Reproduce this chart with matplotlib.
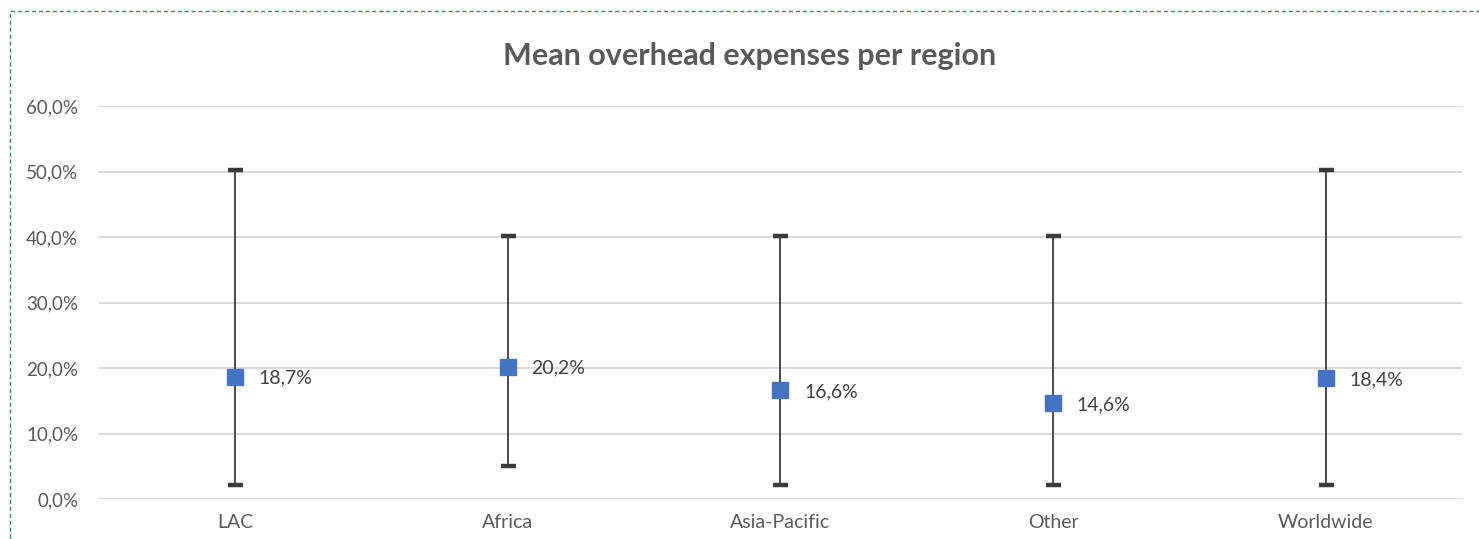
import matplotlib
matplotlib.use("Agg")
import matplotlib.pyplot as plt
from matplotlib.patches import Rectangle

plt.rcParams["font.family"] = ["Lato", "DejaVu Sans"]

# data
regions = ["LAC", "Africa", "Asia-Pacific", "Other", "Worldwide"]
means = [0.187, 0.202, 0.166, 0.146, 0.184]
lows = [0.021, 0.050, 0.021, 0.021, 0.021]
highs = [0.503, 0.401, 0.401, 0.401, 0.503]
yticks = [0.0, 0.1, 0.2, 0.3, 0.4, 0.5, 0.6]

fig = plt.figure(figsize=(14.79, 5.39), dpi=100)
ax = fig.add_axes([99 / 1479, 1 - 499 / 539, (1462 - 99) / 1479, (499 - 106) / 539])

x = list(range(len(regions)))
err_lo = [m - lo for m, lo in zip(means, lows)]
err_hi = [hi - m for m, hi in zip(means, highs)]

# whiskers
_, caps, _ = ax.errorbar(x, means, yerr=[err_lo, err_hi], fmt="none",
                         ecolor="#3a3a3a", elinewidth=1.3, capsize=5.4,
                         capthick=3.2, zorder=3)
for cap in caps:
    cap.set_color("black")
# mean markers
ax.plot(x, means, linestyle="none", marker="s", markersize=12,
        color="#4472C4", zorder=4)

for xi, m in zip(x, means):
    ax.annotate(f"{m * 100:.1f}%".replace(".", ","), (xi, m), xytext=(17, -1),
                textcoords="offset points", ha="left", va="center",
                fontsize=14, color="#404040")

ax.set_xlim(-0.5, len(regions) - 0.5)
ax.set_ylim(0, 0.6)
ax.set_yticks(yticks)
ax.set_yticklabels([f"{t * 100:.1f}%".replace(".", ",") for t in yticks])
ax.set_xticks(x)
ax.set_xticklabels(regions)
ax.tick_params(axis="both", length=0, labelcolor="#595959")
ax.tick_params(axis="y", pad=15, labelsize=13.5)
ax.tick_params(axis="x", pad=11, labelsize=14)

ax.grid(True, axis="y", color="#D9D9D9", linewidth=1.4)
ax.set_axisbelow(True)
for s in ["top", "right", "left", "bottom"]:
    ax.spines[s].set_visible(False)

fig.text(750 / 1479, 1 - 56 / 539, "Mean overhead expenses per region",
         ha="center", va="center", fontsize=22, fontweight="bold", color="#595959")

# dashed frame (cut off at right/bottom in the reference)
fig.patches.append(Rectangle((10 / 1479, -0.1), 1.2, 1 - 11 / 539 + 0.1,
                             transform=fig.transFigure, fill=False,
                             edgecolor="#1a9a5a", linestyle=(0, (3, 2)),
                             linewidth=1.0))

fig.savefig("out.png", dpi=100)
